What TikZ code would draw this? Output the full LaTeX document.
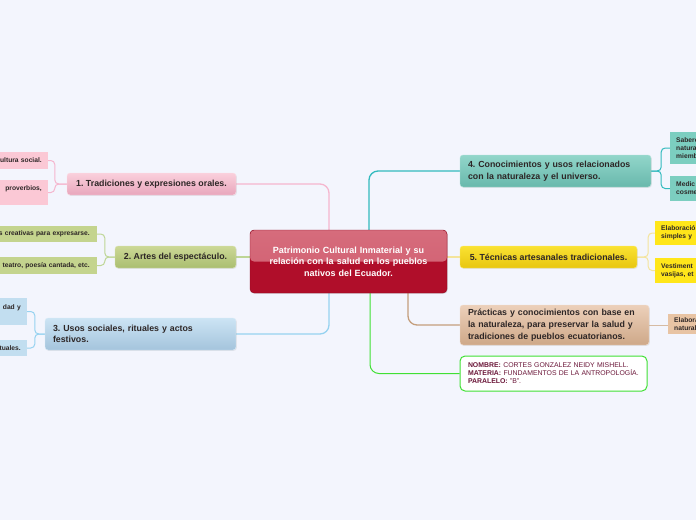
\documentclass[tikz,border=0pt]{standalone}
\usepackage{fontspec}
\setmainfont{Liberation Sans}
\usepackage{tikz}
\usepackage{xcolor}
\usetikzlibrary{shapes,arrows,positioning,calc,backgrounds,shadows}
\definecolor{bgcolor}{RGB}{243,245,253}
\definecolor{textdark}{RGB}{45,38,38}
\definecolor{infotext}{RGB}{108,24,58}
\definecolor{rootdark}{RGB}{176,14,42}
\definecolor{rootlight}{RGB}{214,108,124}
\definecolor{pinktop}{RGB}{250,208,220}
\definecolor{pinkbot}{RGB}{232,166,188}
\definecolor{pinkleaf}{RGB}{251,200,213}
\definecolor{pinkline}{RGB}{245,182,206}
\definecolor{greentop}{RGB}{204,216,150}
\definecolor{greenbot}{RGB}{170,190,112}
\definecolor{greenleaf}{RGB}{196,212,142}
\definecolor{greenline}{RGB}{190,214,150}
\definecolor{bluetop}{RGB}{204,228,244}
\definecolor{bluebot}{RGB}{164,196,220}
\definecolor{blueleaf}{RGB}{194,222,240}
\definecolor{blueline}{RGB}{150,210,240}
\definecolor{tealtop}{RGB}{146,214,202}
\definecolor{tealbot}{RGB}{104,184,172}
\definecolor{tealleaf}{RGB}{124,206,192}
\definecolor{tealline}{RGB}{50,186,190}
\definecolor{yellowtop}{RGB}{250,226,50}
\definecolor{yellowbot}{RGB}{232,198,16}
\definecolor{yellowleaf}{RGB}{255,230,26}
\definecolor{yellowline}{RGB}{244,228,156}
\definecolor{browntop}{RGB}{236,208,186}
\definecolor{brownbot}{RGB}{206,168,136}
\definecolor{brownleaf}{RGB}{232,196,164}
\definecolor{brownline}{RGB}{196,158,124}
\definecolor{infoline}{RGB}{64,224,52}
\frenchspacing

\begin{document}
\begin{tikzpicture}[
    x=1pt, y=-1pt,
    topic/.style={rectangle, rounded corners=3pt, inner xsep=8pt, inner ysep=2pt, align=left, text=textdark, font=\fontsize{8.8}{11.6}\selectfont\bfseries, drop shadow={opacity=0.15, shadow xshift=0.8pt, shadow yshift=-0.8pt}},
    leafl/.style={rectangle, anchor=east, inner xsep=6pt, inner ysep=1pt, text width=100pt, align=right, text=textdark, font=\fontsize{6.7}{8}\selectfont\bfseries},
    leafr/.style={rectangle, anchor=west, inner xsep=6pt, inner ysep=1pt, text width=100pt, align=left, text=textdark, font=\fontsize{6.7}{8}\selectfont\bfseries},
    link/.style={line width=1.3pt, rounded corners=9pt},
    brace/.style={line width=1pt, rounded corners=4pt}
]

\useasboundingbox (0,0) rectangle (696,520);
\clip (0,0) rectangle (696,520);

% Central topic
\node[rectangle, draw=rootdark!80!black, fill=rootdark, rounded corners=4pt, minimum width=197pt, minimum height=63pt, text width=185pt, align=center, text=white, font=\fontsize{9}{11.5}\selectfont\bfseries,
  path picture={\fill[top color=rootlight, bottom color=rootlight!85!rootdark] (path picture bounding box.north west) rectangle (path picture bounding box.east);},
  drop shadow={opacity=0.2, shadow xshift=0.8pt, shadow yshift=-0.8pt}] (centre) at (348.5,261.5)
  {Patrimonio Cultural Inmaterial y su\\relación con la salud en los pueblos\\nativos del Ecuador.};

% Left topics
\node[topic, top color=pinktop, bottom color=pinkbot, draw=pinktop!70!white, minimum width=169pt, minimum height=22pt, align=center] (trad) at (151.5,184) {1. Tradiciones y expresiones orales.};
\node[topic, top color=greentop, bottom color=greenbot, draw=greentop!70!white, minimum width=121pt, minimum height=22pt, align=center] (artes) at (175.5,257) {2. Artes del espectáculo.};
\node[topic, top color=bluetop, bottom color=bluebot, draw=bluetop!70!white, minimum width=191pt, minimum height=32pt, text width=175pt] (usos) at (140.5,334) {3. Usos sociales, rituales y actos\\festivos.};

% Right topics
\node[topic, top color=tealtop, bottom color=tealbot, draw=tealtop!70!white, minimum width=191pt, minimum height=32pt, text width=175pt] (know) at (555.5,171) {4. Conocimientos y usos relacionados\\con la naturaleza y el universo.};
\node[topic, top color=yellowtop, bottom color=yellowbot, draw=yellowtop!70!white, minimum width=177pt, minimum height=22pt, align=center] (tech) at (548.5,257) {5. Técnicas artesanales tradicionales.};
\node[topic, top color=browntop, bottom color=brownbot, draw=browntop!70!white, minimum width=189pt, minimum height=40pt, text width=173pt, font=\fontsize{8.8}{11.8}\selectfont\bfseries] (prac) at (554.5,325) {Prácticas y conocimientos con base en\\la naturaleza, para preservar la salud y\\tradiciones de pueblos ecuatorianos.};

% Author box
\node[rectangle, draw=infoline, line width=1pt, fill=white, rounded corners=5pt, minimum width=187pt, minimum height=35pt, text width=171pt, inner xsep=8pt, align=left, text=infotext, font=\fontsize{6.9}{8}\selectfont] (info) at (553.5,373.5)
  {\textbf{NOMBRE:} CORTES GONZALEZ NEIDY MISHELL.\\\textbf{MATERIA:} FUNDAMENTOS DE LA ANTROPOLOGÍA.\\\textbf{PARALELO:} "B".};

% Leaves (cut by the page edge)
\node[leafl, fill=pinkleaf, minimum height=17pt] (tradA) at (48,160.5) {ultura social.};
\node[leafl, fill=pinkleaf, minimum height=25pt] (tradB) at (48,192.5) {proverbios,\\\mbox{}};
\node[leafl, fill=greenleaf, minimum height=16pt, inner xsep=7pt] (artesA) at (97,234) {s creativas para expresarse.};
\node[leafl, fill=greenleaf, minimum height=17pt, inner xsep=7pt] (artesB) at (97,265.5) {teatro, poesía cantada, etc.};
\node[leafl, fill=blueleaf, minimum height=27pt] (usosA) at (27,311.5) {dad y\\\mbox{}};
\node[leafl, fill=blueleaf, minimum height=16pt] (usosB) at (27,348) {tuales.};
\node[leafr, fill=tealleaf, minimum height=32pt] (knowA) at (670,148) {Sabere\\natura\\miemb};
\node[leafr, fill=tealleaf, minimum height=25pt] (knowB) at (670,188.5) {Medic\\cosme};
\node[leafr, fill=yellowleaf, minimum height=24pt] (techA) at (655,233) {Elaboració\\simples y};
\node[leafr, fill=yellowleaf, minimum height=25pt] (techB) at (655,270.5) {Vestiment\\vasijas, et};
\node[leafr, fill=brownleaf, minimum height=20pt] (pracA) at (668,324) {Elabora\\naturale};

% Connectors
\begin{scope}[on background layer]
\fill[bgcolor] (0,0) rectangle (696,520);
\draw[link, pinkline] (trad.east) -| ([xshift=-19.5pt]centre.north);
\draw[link, greenline] (artes.east) -- (artes.east -| centre.west);
\draw[link, blueline] ([xshift=-19.5pt]centre.south) |- (usos.east);
\draw[link, tealline] ([xshift=20.5pt]centre.north) |- (know.west);
\draw[link, yellowline] (centre.east |- tech.west) -- (tech.west);
\draw[link, brownline] ([xshift=59.5pt]centre.south) |- (prac.west);
\draw[link, infoline, line width=1pt] ([xshift=21.5pt]centre.south) |- (info.west);
\draw[brace, pinkline] (trad.west) -- ++(-12,0) |- (tradA.east);
\draw[brace, pinkline] (trad.west) -- ++(-12,0) |- (tradB.east);
\draw[brace, greenline] (artes.west) -- ++(-10,0) |- (artesA.east);
\draw[brace, greenline] (artes.west) -- ++(-10,0) |- (artesB.east);
\draw[brace, blueline] (usos.west) -- ++(-10,0) |- (usosA.east);
\draw[brace, blueline] (usos.west) -- ++(-10,0) |- (usosB.east);
\draw[brace, tealline] (know.east) -- ++(10,0) |- (knowA.west);
\draw[brace, tealline] (know.east) -- ++(10,0) |- (knowB.west);
\draw[brace, yellowline] (tech.east) -- ++(11,0) |- (techA.west);
\draw[brace, yellowline] (tech.east) -- ++(11,0) |- (techB.west);
\draw[brace, brownline!70!white] (prac.east) -- (prac.east -| pracA.west);
\end{scope}

\end{tikzpicture}
\end{document}
